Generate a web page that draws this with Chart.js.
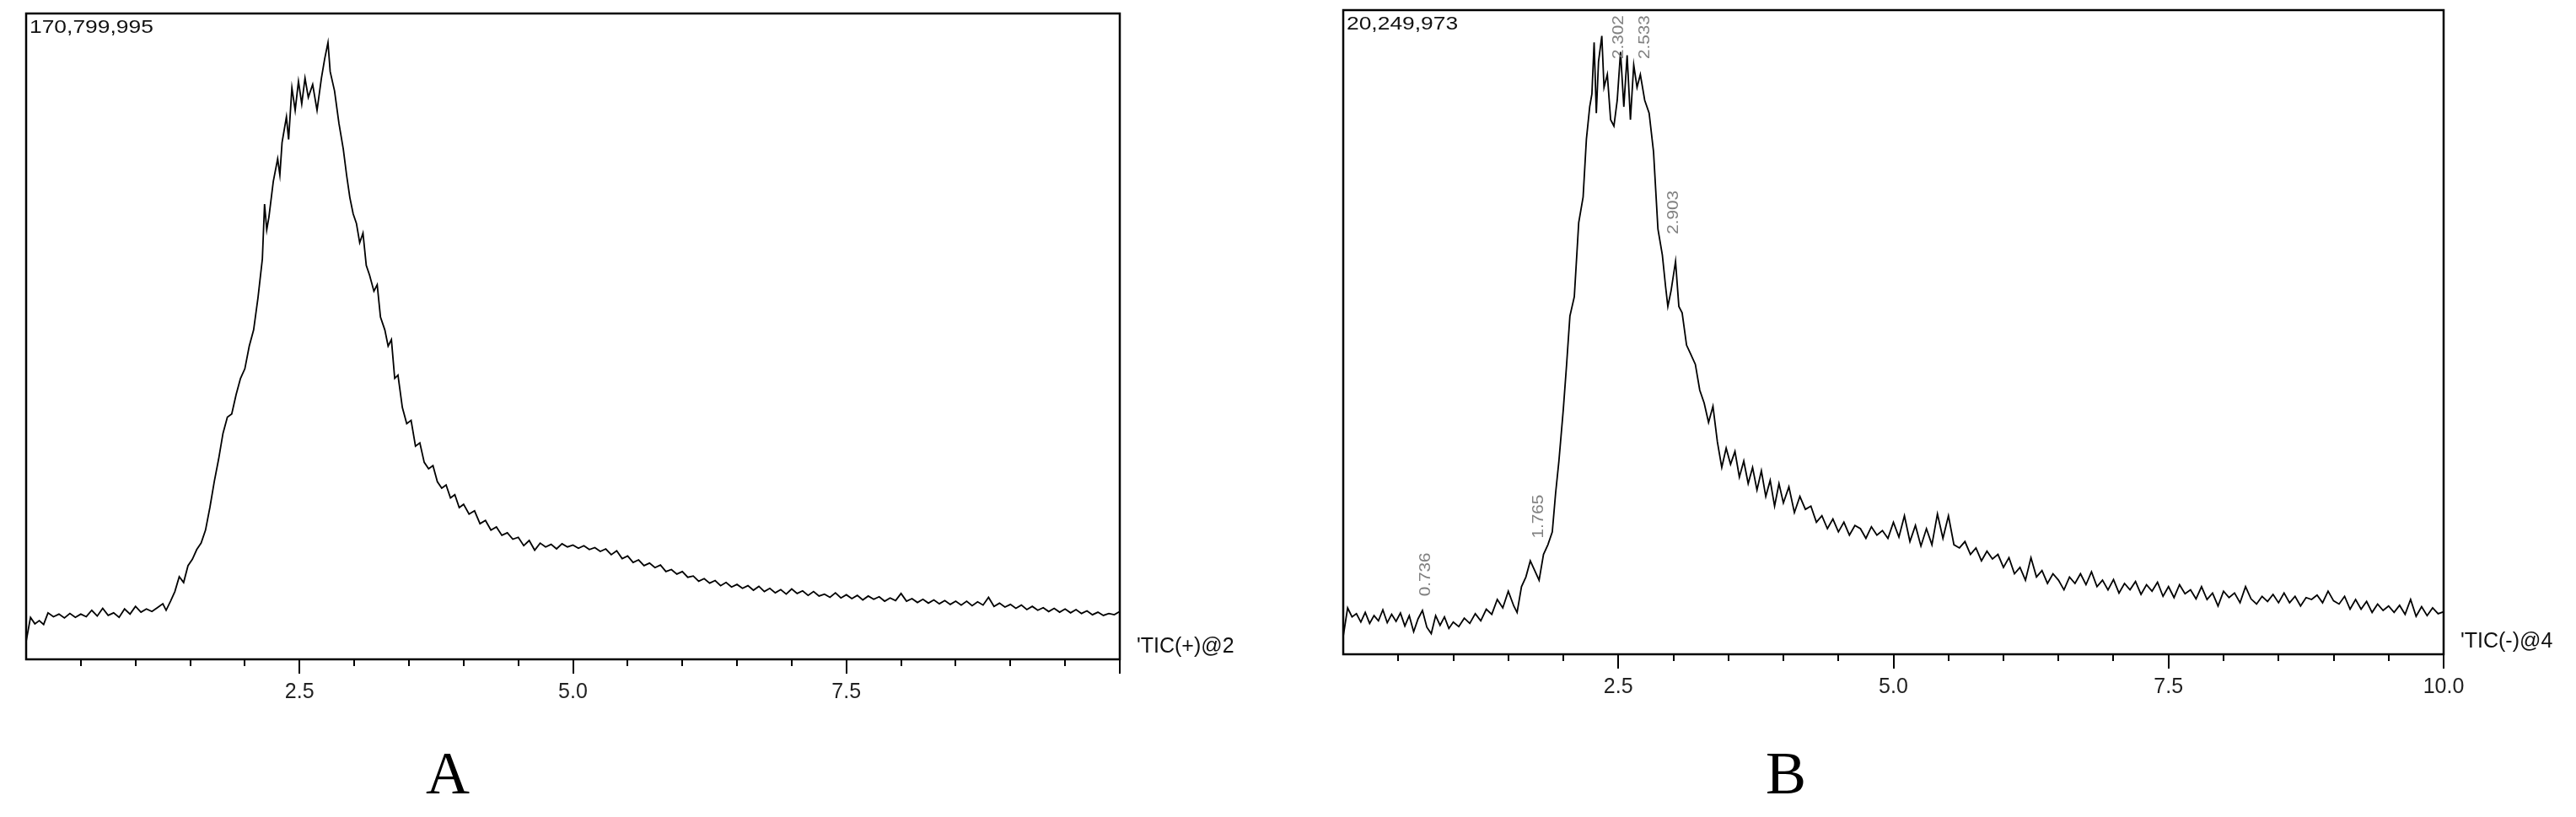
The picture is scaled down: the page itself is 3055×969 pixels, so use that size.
<!DOCTYPE html>
<html><head><meta charset="utf-8">
<script src="https://cdn.jsdelivr.net/npm/chart.js@4"></script>
<style>
body{margin:0;background:#fff;width:3055px;height:969px;overflow:hidden;position:relative;font-family:"Liberation Sans",Arial,sans-serif}
canvas{position:absolute;top:0}
.lab{position:absolute;font-family:"Liberation Serif","Times New Roman",serif;font-size:72px;line-height:1;transform:translate(-50%,-50%)}
</style></head><body>
<canvas id="a" width="1500" height="880" style="left:0"></canvas>
<canvas id="b" width="1505" height="880" style="left:1550px"></canvas>
<div class="lab" style="left:531px;top:917px">A</div>
<div class="lab" style="left:2118px;top:917px">B</div>
<script>
const timeA=[0.00,0.04,0.08,0.12,0.16,0.20,0.25,0.30,0.35,0.40,0.45,0.50,0.55,0.60,0.65,0.70,0.75,0.80,0.85,0.90,0.95,1.00,1.05,1.10,1.15,1.20,1.25,1.28,1.32,1.36,1.40,1.44,1.48,1.52,1.56,1.60,1.64,1.68,1.72,1.76,1.80,1.84,1.88,1.92,1.96,2.00,2.04,2.08,2.12,2.16,2.18,2.20,2.22,2.26,2.30,2.32,2.34,2.38,2.40,2.43,2.46,2.49,2.52,2.55,2.58,2.62,2.66,2.70,2.73,2.76,2.78,2.82,2.86,2.90,2.93,2.96,2.99,3.02,3.05,3.08,3.11,3.14,3.18,3.21,3.24,3.28,3.31,3.34,3.37,3.40,3.44,3.48,3.52,3.56,3.60,3.64,3.68,3.72,3.76,3.80,3.84,3.88,3.92,3.96,4.00,4.05,4.10,4.15,4.20,4.25,4.30,4.35,4.40,4.45,4.50,4.55,4.60,4.65,4.70,4.75,4.80,4.85,4.90,4.95,5.00,5.05,5.10,5.15,5.20,5.25,5.30,5.35,5.40,5.45,5.50,5.55,5.60,5.65,5.70,5.75,5.80,5.85,5.90,5.95,6.00,6.05,6.10,6.15,6.20,6.25,6.30,6.35,6.40,6.45,6.50,6.55,6.60,6.65,6.70,6.75,6.80,6.85,6.90,6.95,7.00,7.05,7.10,7.15,7.20,7.25,7.30,7.35,7.40,7.45,7.50,7.55,7.60,7.65,7.70,7.75,7.80,7.85,7.90,7.95,8.00,8.05,8.10,8.15,8.20,8.25,8.30,8.35,8.40,8.45,8.50,8.55,8.60,8.65,8.70,8.75,8.80,8.85,8.90,8.95,9.00,9.05,9.10,9.15,9.20,9.25,9.30,9.35,9.40,9.45,9.50,9.55,9.60,9.65,9.70,9.75,9.80,9.85,9.90,9.95,10.00,10.12];
const ticA=[2.8,6.5,5.5,6.0,5.4,7.2,6.6,7.0,6.4,7.1,6.5,7.0,6.6,7.6,6.7,7.9,6.8,7.2,6.5,7.8,7.0,8.2,7.3,7.8,7.4,8.0,8.6,7.6,9.0,10.5,12.8,11.9,14.5,15.5,17.0,18.0,20.0,23.5,27.5,31.0,35.0,37.5,38.0,41.0,43.5,45.0,48.5,51.0,56.0,62.0,70.5,66.5,68.5,74.0,77.5,75.0,80.0,84.0,80.5,88.5,85.0,89.5,86.0,90.0,87.0,89.0,85.0,90.0,93.0,95.5,91.0,88.0,83.0,79.0,75.0,71.5,69.0,67.5,64.5,66.0,61.0,59.5,57.0,58.0,53.0,51.0,48.5,49.5,43.5,44.0,39.0,36.5,37.0,33.0,33.5,30.5,29.5,30.0,27.5,26.5,27.0,25.0,25.5,23.5,24.0,22.5,23.0,21.0,21.5,20.0,20.5,19.2,19.6,18.6,18.9,17.6,18.4,16.9,18.0,17.4,17.8,17.1,17.9,17.4,17.7,17.2,17.6,17.0,17.3,16.7,17.1,16.2,16.8,15.6,16.0,15.0,15.4,14.5,14.9,14.2,14.6,13.6,13.9,13.2,13.6,12.7,12.9,12.1,12.5,11.8,12.2,11.4,11.9,11.2,11.6,11.0,11.4,10.7,11.3,10.5,11.0,10.3,10.8,10.1,10.9,10.2,10.6,9.9,10.5,9.8,10.1,9.6,10.3,9.5,10.0,9.4,9.9,9.2,9.8,9.3,9.7,9.0,9.5,9.1,10.2,9.0,9.4,8.8,9.3,8.7,9.2,8.6,9.1,8.5,9.0,8.4,9.0,8.3,8.9,8.4,9.6,8.2,8.7,8.1,8.5,7.9,8.4,7.7,8.2,7.6,8.0,7.4,7.9,7.3,7.8,7.2,7.7,7.1,7.5,6.9,7.3,6.8,7.1,6.9,7.4,4.6];
const timeB=[0.00,0.04,0.08,0.12,0.16,0.20,0.24,0.28,0.32,0.36,0.40,0.44,0.48,0.52,0.56,0.60,0.64,0.68,0.72,0.76,0.80,0.84,0.88,0.92,0.96,1.00,1.05,1.10,1.15,1.20,1.25,1.30,1.35,1.40,1.45,1.50,1.55,1.58,1.62,1.66,1.70,1.74,1.78,1.82,1.86,1.90,1.93,1.96,2.00,2.03,2.06,2.10,2.14,2.18,2.21,2.24,2.26,2.28,2.30,2.32,2.35,2.37,2.40,2.43,2.46,2.49,2.52,2.55,2.58,2.61,2.64,2.67,2.70,2.74,2.78,2.82,2.86,2.90,2.93,2.95,2.98,3.02,3.05,3.08,3.12,3.16,3.20,3.24,3.28,3.32,3.36,3.40,3.44,3.48,3.52,3.56,3.60,3.64,3.68,3.72,3.76,3.80,3.84,3.88,3.92,3.96,4.00,4.05,4.10,4.15,4.20,4.25,4.30,4.35,4.40,4.45,4.50,4.55,4.60,4.65,4.70,4.75,4.80,4.85,4.90,4.95,5.00,5.05,5.10,5.15,5.20,5.25,5.30,5.35,5.40,5.45,5.50,5.55,5.60,5.65,5.70,5.75,5.80,5.85,5.90,5.95,6.00,6.05,6.10,6.15,6.20,6.25,6.30,6.35,6.40,6.45,6.50,6.55,6.60,6.65,6.70,6.75,6.80,6.85,6.90,6.95,7.00,7.05,7.10,7.15,7.20,7.25,7.30,7.35,7.40,7.45,7.50,7.55,7.60,7.65,7.70,7.75,7.80,7.85,7.90,7.95,8.00,8.05,8.10,8.15,8.20,8.25,8.30,8.35,8.40,8.45,8.50,8.55,8.60,8.65,8.70,8.75,8.80,8.85,8.90,8.95,9.00,9.05,9.10,9.15,9.20,9.25,9.30,9.35,9.40,9.45,9.50,9.55,9.60,9.65,9.70,9.75,9.80,9.85,9.90,9.95,10.00,10.12];
const ticB=[2.8,7.2,5.8,6.3,5.0,6.5,4.8,6.0,5.2,6.9,4.9,6.2,5.1,6.4,4.4,6.0,3.5,5.5,6.8,4.2,3.2,6.0,4.5,5.8,4.0,5.0,4.3,5.6,4.8,6.3,5.2,7.0,6.2,8.5,7.2,9.8,7.5,6.5,10.5,12.0,14.5,13.0,11.5,15.5,17.0,19.0,25.0,30.0,38.0,45.0,52.5,55.5,67.0,71.0,80.0,85.0,87.0,95.0,84.0,92.0,96.0,88.0,90.0,83.0,82.0,86.0,93.5,85.0,93.0,83.0,91.5,88.0,90.0,86.0,84.0,78.0,66.0,62.0,57.0,54.0,56.5,61.0,54.0,53.0,48.0,46.5,45.0,41.0,39.0,36.0,38.5,33.0,29.0,32.0,29.5,31.5,27.5,30.0,26.5,29.0,25.5,28.5,24.5,27.0,23.0,26.5,23.5,26.0,22.0,24.5,22.5,23.0,20.5,21.5,19.5,21.0,19.0,20.5,18.5,20.0,19.5,18.0,19.8,18.5,19.2,18.0,20.5,18.2,21.5,17.5,20.0,16.8,19.5,17.0,21.8,18.0,21.5,17.0,16.5,17.5,15.5,16.5,14.5,16.0,14.8,15.5,13.5,15.0,12.5,13.5,11.5,15.0,12.0,13.0,11.0,12.5,11.5,10.0,12.0,11.0,12.5,10.8,12.8,10.5,11.5,10.0,11.6,9.5,11.0,10.0,11.3,9.3,10.8,9.8,11.2,9.0,10.5,8.8,10.8,9.4,10.0,8.6,10.5,8.5,9.5,7.5,9.8,8.8,9.5,8.0,10.5,8.6,7.8,9.0,8.2,9.3,8.0,9.5,8.0,9.0,7.5,8.8,8.5,9.2,8.0,9.8,8.3,7.8,9.0,7.0,8.5,7.0,8.2,6.5,7.8,6.8,7.5,6.5,7.6,6.2,8.5,5.9,7.4,6.0,7.2,6.3,6.6,3.5];
const peakTimesB=[0.736,1.765,2.302,2.533,2.903];
const peakLabelsB=["0.736","1.765","2.302","2.533","2.903"];
const peakLabelLevelB=[9,18,92.4,92.4,65.2];
const maxLabelA="170,799,995", maxLabelB="20,249,973";
const traceA="'TIC(+)@2", traceB="'TIC(-)@4";

function frame(maxLabel,trace,peaks){
  return {id:'frame',afterDatasetsDraw(ch){
    const c=ch.ctx,a=ch.chartArea,x=ch.scales.x,y=ch.scales.y;
    c.save();c.strokeStyle='#000';c.lineWidth=2.5;
    c.strokeRect(a.left,a.top,a.right-a.left,a.bottom-a.top);
    c.lineWidth=2;c.beginPath();
    x.ticks.forEach(t=>{if(t.value<=0)return;const px=Math.round(x.getPixelForValue(t.value));
      const major=Math.abs(t.value/2.5-Math.round(t.value/2.5))<1e-6;
      c.moveTo(px,a.bottom);c.lineTo(px,a.bottom+(major?17:8));});
    c.stroke();
    c.fillStyle='#111';c.font='22px "Liberation Sans",Arial';c.textBaseline='top';c.textAlign='left';
    c.save();c.translate(a.left+4,a.top+6);c.scale(1.2,1);c.fillText(maxLabel,0,0);c.restore();
    c.font='25px "Liberation Sans",Arial';c.textBaseline='middle';c.fillText(trace,a.right+20,a.bottom-15);
    if(peaks){
      c.fillStyle='#808080';c.font='18px "Liberation Sans",Arial';
      peaks.t.forEach((t,i)=>{
        const px=x.getPixelForValue(t)+(i===2||i===3?27:i===4?13:2), py=y.getPixelForValue(peaks.l[i]);
        c.save();c.translate(px,py);c.rotate(-Math.PI/2);c.scale(1.15,1);c.textAlign='left';c.textBaseline='middle';
        c.fillText(peaks.s[i],0,0);c.restore();
      });
    }
    c.restore();
  }};
}
function make(id,t,v,pad,maxLabel,trace,peaks,showTen){
  new Chart(document.getElementById(id),{type:'line',
    data:{datasets:[{data:t.map((x,i)=>({x,y:v[i]})),borderColor:'#000',borderWidth:1.8,pointRadius:0,tension:0,clip:false}]},
    options:{responsive:false,animation:false,devicePixelRatio:1,layout:{padding:pad},
      plugins:{legend:{display:false},tooltip:{enabled:false}},
      scales:{
        x:{type:'linear',min:0,max:10,afterFit:s=>{s.height=60},
          grid:{display:false},border:{display:false},
          ticks:{stepSize:0.5,autoSkip:false,maxRotation:0,padding:16,color:'#222',font:{size:25,family:'"Liberation Sans",Arial'},
            callback:val=>{const r=Math.round(val*10)/10; if(r>0&&Math.abs(r/2.5-Math.round(r/2.5))<1e-6&&(showTen||r<10))return r.toFixed(1);return '';}}},
        y:{display:false,min:0,max:100}}},
    plugins:[frame(maxLabel,trace,peaks)]});
}
make('a',timeA,ticA,{left:31,right:172,top:16,bottom:38},maxLabelA,traceA,null,false);
make('b',timeB,ticB,{left:43,right:157,top:12,bottom:44},maxLabelB,traceB,{t:peakTimesB,s:peakLabelsB,l:peakLabelLevelB},true);
</script></body></html>
